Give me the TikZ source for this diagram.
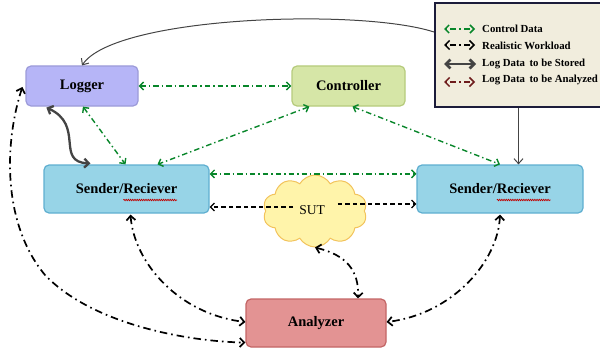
\documentclass[tikz,border=0pt]{standalone}
\usepackage{fontspec}
\setmainfont{Liberation Serif}
\usetikzlibrary{arrows.meta,shapes.symbols,decorations.pathmorphing,calc}
\definecolor{cgreen}{HTML}{08862A}
\definecolor{clog}{HTML}{B6B5F7}
\definecolor{clogb}{HTML}{9C9BD9}
\definecolor{cctl}{HTML}{D6E6A7}
\definecolor{cctlb}{HTML}{B6CB7C}
\definecolor{csr}{HTML}{97D4E7}
\definecolor{csrb}{HTML}{5FAFD0}
\definecolor{cana}{HTML}{E39393}
\definecolor{canab}{HTML}{C36565}
\definecolor{csut}{HTML}{FFF4AA}
\definecolor{csutb}{HTML}{F2C35C}
\definecolor{cleg}{HTML}{F1EDDD}
\definecolor{clegb}{HTML}{1C1C3A}
\definecolor{cgrey}{HTML}{444444}
\definecolor{cred}{HTML}{6E1C1C}
\newcommand\srfont{\fontsize{14.5}{16}\selectfont\bfseries}
\newlength\wsa
\newlength\wsb
\begin{document}
\settowidth\wsa{\srfont Sender/Reciever}%
\settowidth\wsb{\srfont Sender/}%
\begin{tikzpicture}[x=1pt,y=-1pt,
  box/.style={rounded corners=5pt, line width=1.2pt, minimum height=40pt, font=\srfont},
  gline/.style={draw=cgreen, line width=1.4pt, dash pattern=on 5.5pt off 3pt on 1.4pt off 3pt, {Straight Barb[length=4pt,width=8pt]}-{Straight Barb[length=4pt,width=8pt]}},
  bline/.style={draw=black, line width=1.7pt, dash pattern=on 7.5pt off 4pt on 1.6pt off 4pt, {Straight Barb[length=4.5pt,width=9pt]}-{Straight Barb[length=4.5pt,width=9pt]}},
  wline/.style={draw=black, line width=1.2pt, dash pattern=on 4.5pt off 3pt, -{Straight Barb[length=4pt,width=8pt]}},
  logthick/.style={draw=cgrey, line width=2.3pt, {Straight Barb[length=4.5pt,width=9pt]}-{Straight Barb[length=4.5pt,width=9pt]}},
  logthin/.style={draw=cgrey, line width=1pt, -{Straight Barb[length=5pt,width=9pt]}},
  legtext/.style={anchor=west, inner sep=0pt, font=\fontsize{10.8}{12}\selectfont\bfseries}
]
\useasboundingbox (0,0) rectangle (600,353);

% nodes
\node[box, fill=clog, draw=clogb, minimum width=112pt] (logger) at (82,86) {Logger};
\node[box, fill=cctl, draw=cctlb, minimum width=113pt] (ctl) at (348.5,86) {Controller};
\node[box, fill=csr, draw=csrb, minimum width=165pt, minimum height=48pt] (lsr) at (126.5,189) {Sender/Reciever};
\node[box, fill=csr, draw=csrb, minimum width=166pt, minimum height=48pt] (rsr) at (500,189) {Sender/Reciever};
\node[box, fill=cana, draw=canab, minimum width=140pt, minimum height=48pt] (ana) at (316,323) {Analyzer};
\node[cloud, cloud puffs=10, cloud puff arc=120, aspect=1.45, minimum width=104pt, minimum height=72pt, fill=csut, draw=csutb, line width=1pt] (sut) at (315,211) {};
\node[font=\fontsize{13.5}{15}\selectfont, inner sep=1pt] (sutt) at (312,210) {SUT};

% red spell-check underlines
\foreach \n in {lsr,rsr}{
  \draw[red!75!black, line width=0.7pt, decorate, decoration={snake, amplitude=0.7pt, segment length=2.2pt}]
    ($(\n.center)+(-0.5\wsa+\wsb,-11pt)$) -- ($(\n.center)+(0.5\wsa,-11pt)$);
}

% legend
\node[draw=clegb, fill=cleg, line width=2pt, minimum width=167pt, minimum height=104pt, inner sep=0pt] (leg) at (518.5,55) {};
\coordinate (l1) at (444,29);
\coordinate (l2) at (444,45);
\coordinate (l3) at (444,64);
\coordinate (l4) at (444,82);
\draw[gline, line width=1.5pt, dash pattern=on 1.6pt off 3pt on 6pt off 3pt] (l1) -- ++(31,0);
\draw[bline, line width=1.5pt, dash pattern=on 1.6pt off 3pt on 6pt off 3pt] (l2) -- ++(31,0);
\draw[logthick, line width=2.8pt] (l3) -- ++(32,0);
\draw[bline, draw=cred, line width=1.5pt, dash pattern=on 1.6pt off 3pt on 6pt off 3pt] (l4) -- ++(31,0);
\node[legtext] (t1) at (482,29) {Control Data};
\node[legtext] (t2) at (482,46) {Realistic Workload};
\node[legtext] (t3) at (482,64) {Log Data\, to be Stored};
\node[legtext] (t4) at (482,80) {Log Data\, to be Analyzed};

% legend connectors
\draw[logthin] ($(leg.north west)+(0,30)$) .. controls (360,8) and (115,16) .. (logger.north);
\draw[logthin] (leg.south) -- (leg.south |- rsr.north);

% green control lines
\draw[gline] (logger.east) -- (ctl.west);
\draw[gline] ($(logger.south)+(1,0)$) -- ($(lsr.north)+(-1,0)$);
\draw[gline] ($(ctl.south west)+(18,0)$) -- ($(lsr.north)+(31,0)$);
\draw[gline] ($(ctl.south)+(4,0)$) -- (rsr.north);
\draw[gline] ($(lsr.north east)+(0,9.5)$) -- ($(rsr.north west)+(0,9.5)$);

% log stored
\draw[logthick] ($(logger.south west)+(21,1)$) .. controls (85,125) and (55,162) .. ($(lsr.north west)+(47,-1)$);

% workload through SUT
\coordinate (wl) at ($(sutt.west)+(-5,-3)$);
\coordinate (wr) at ($(sutt.east)+(12,-6)$);
\draw[wline] (wl) -- (wl -| lsr.east);
\draw[wline] (wr) -- (wr -| rsr.west);

% analysis lines
\draw[bline] ($(lsr.south)+(4,1)$) .. controls (134,262) and (178,314) .. ($(ana.west)+(0,-1)$);
\draw[bline] ($(rsr.south)+(0,1)$) .. controls (498,262) and (452,314) .. ($(ana.east)+(0,-1)$);
\draw[bline] ($(logger.west)+(-3,1)$) .. controls (5,140) and (1,222) .. (45,275) .. controls (90,322) and (180,341) .. ($(ana.south west)+(0,-5)$);
\draw[bline] (sut.south) .. controls (346,255) and (359,270) .. (ana.north -| 358,0);
\end{tikzpicture}
\end{document}
